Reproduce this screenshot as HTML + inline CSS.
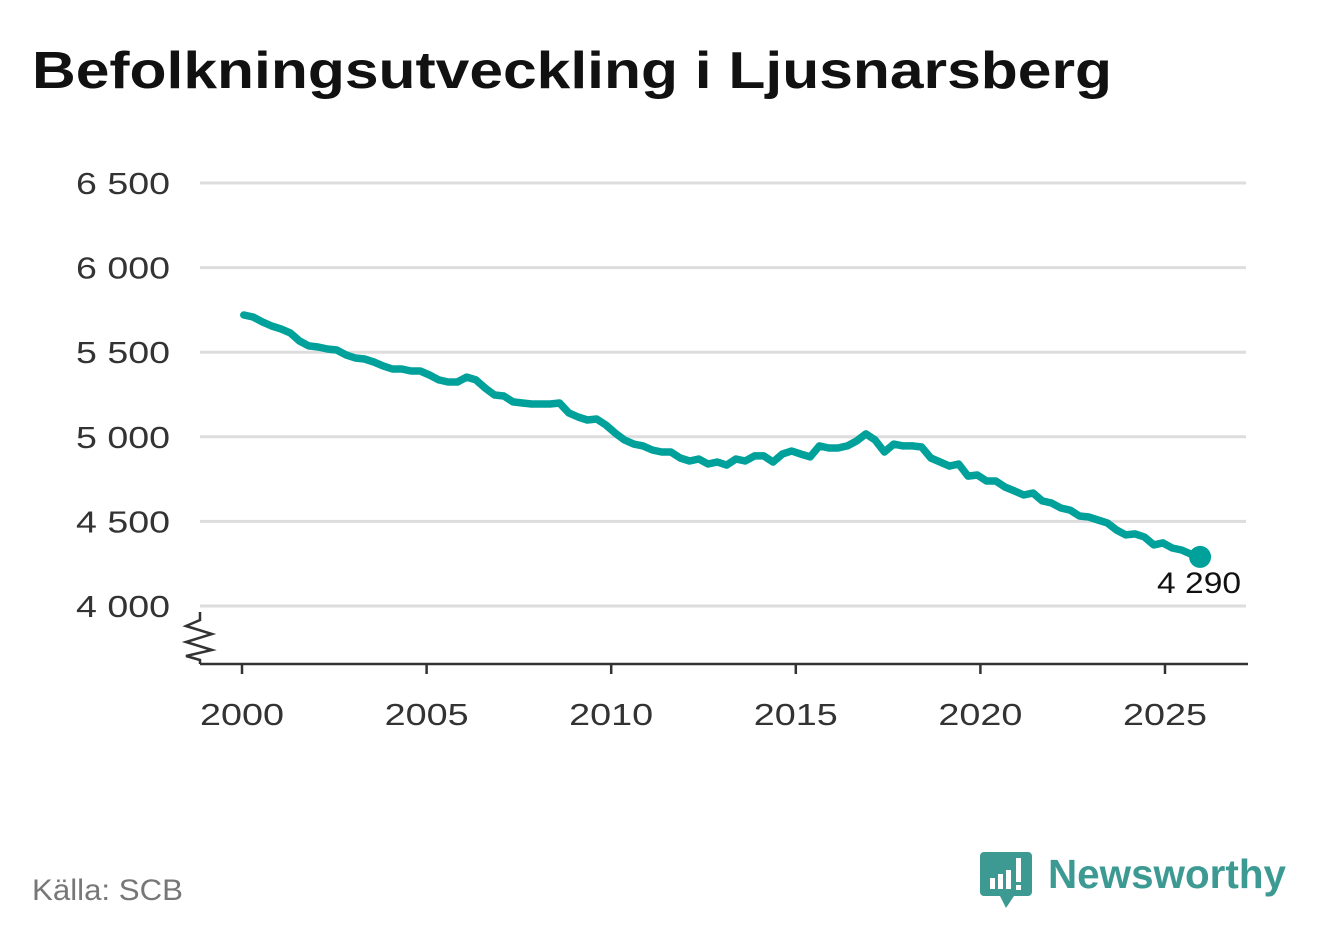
<!DOCTYPE html>
<html><head><meta charset="utf-8"><style>
html,body{margin:0;padding:0;background:#fff;width:1322px;height:939px;overflow:hidden;font-family:"Liberation Sans",sans-serif}
</style></head><body>
<svg id="chart" width="1322" height="939" xmlns="http://www.w3.org/2000/svg">
<text x="32" y="88" font-size="52" font-weight="bold" fill="#111" textLength="1080" lengthAdjust="spacingAndGlyphs">Befolkningsutveckling i Ljusnarsberg</text>
<g id="grid"></g>
<g id="yticks"></g>
<g id="xaxis"></g>
<path d="M200 612 L200 620 L186 626 L212 634 L186 642 L212 650 L186 656 L200 660 L200 664" fill="none" stroke="#333" stroke-width="2.5"/>
<g id="series"></g>
<text x="32" y="900" font-size="30" fill="#777" textLength="151" lengthAdjust="spacingAndGlyphs">Källa: SCB</text>
<g>
<path d="M984 852 h44 a4 4 0 0 1 4 4 v36 a4 4 0 0 1 -4 4 h-14 l-8 12 l-6 -12 h-16 a4 4 0 0 1 -4 -4 v-36 a4 4 0 0 1 4 -4z" fill="#3d9a93"/>
<rect x="990" y="878" width="5" height="11" fill="#fff"/><rect x="998" y="874" width="5" height="15" fill="#fff"/><rect x="1006" y="870" width="5" height="19" fill="#fff"/><rect x="1016" y="858" width="5" height="24" fill="#fff"/><rect x="1016" y="885" width="5" height="5" fill="#fff"/>
<text x="1048" y="888" font-size="41" font-weight="bold" fill="#3d9a93" textLength="238" lengthAdjust="spacingAndGlyphs">Newsworthy</text>
</g>
</svg>
<script>
const yTicks=[4000,4500,5000,5500,6000,6500];
const yTickLabels=["4 000","4 500","5 000","5 500","6 000","6 500"];
const xTicks=[2000,2005,2010,2015,2020,2025];
const startYear=2000.05;
const endYear=2025.95;
const population=[5720,5708,5679,5655,5638,5614,5566,5537,5531,5519,5513,5484,5466,5460,5442,5419,5401,5401,5389,5389,5365,5336,5324,5324,5353,5336,5288,5247,5241,5206,5200,5194,5194,5194,5200,5141,5117,5099,5105,5070,5022,4981,4957,4946,4922,4910,4910,4875,4857,4869,4839,4851,4833,4869,4857,4887,4887,4851,4898,4916,4898,4881,4946,4934,4934,4946,4975,5017,4981,4910,4957,4946,4946,4940,4875,4851,4827,4839,4768,4774,4739,4739,4703,4680,4656,4668,4621,4609,4579,4567,4532,4526,4508,4491,4449,4420,4426,4408,4361,4373,4343,4331,4307,4290];
const lastLabel="4 290";
const NS="http://www.w3.org/2000/svg";
const yS=v=>606-(v-4000)*(423/2500);
const xS=t=>242+(t-2000)*(923/25);
function mk(tag,attrs,parent){const e=document.createElementNS(NS,tag);for(const k in attrs)e.setAttribute(k,attrs[k]);parent.appendChild(e);return e;}
const grid=document.getElementById('grid'),yt=document.getElementById('yticks'),xa=document.getElementById('xaxis'),ser=document.getElementById('series');
yTicks.forEach((v,i)=>{
 const l=mk('line',{x1:200,x2:1246,y1:yS(v),y2:yS(v),stroke:'#ddd','stroke-width':3},grid);
 
 
 const t=mk('text',{x:170,y:yS(v)+11,'font-size':31,fill:'#333','text-anchor':'end',textLength:94,lengthAdjust:'spacingAndGlyphs'},yt);
 t.textContent=yTickLabels[i];
 
 
});
const ax=mk('line',{x1:200,x2:1248,y1:664,y2:664,stroke:'#333','stroke-width':2.5},xa);


xTicks.forEach(y=>{
 const tk=mk('line',{x1:xS(y),x2:xS(y),y1:664,y2:674,stroke:'#333','stroke-width':2.5},xa);
 
 
 const t=mk('text',{x:xS(y),y:725,'font-size':31,fill:'#333','text-anchor':'middle',textLength:84,lengthAdjust:'spacingAndGlyphs'},xa);
 t.textContent=y;
 
 
});
const step=(endYear-startYear)/(population.length-1);
const pts=population.map((v,i)=>[xS(startYear+i*step),yS(v)]);
const p=mk('path',{d:'M'+pts.map(q=>q[0].toFixed(1)+' '+q[1].toFixed(1)).join(' L'),fill:'none',stroke:'#00a19a','stroke-width':7.5,'stroke-linejoin':'round','stroke-linecap':'round'},ser);


const last=pts[pts.length-1];
const d=mk('circle',{cx:last[0],cy:last[1],r:11,fill:'#00a19a'},ser);


const lt=mk('text',{x:last[0]+41,y:last[1]+36,'font-size':30,fill:'#111','text-anchor':'end',textLength:84,lengthAdjust:'spacingAndGlyphs'},ser);
lt.textContent=lastLabel;


</script>
</body></html>
